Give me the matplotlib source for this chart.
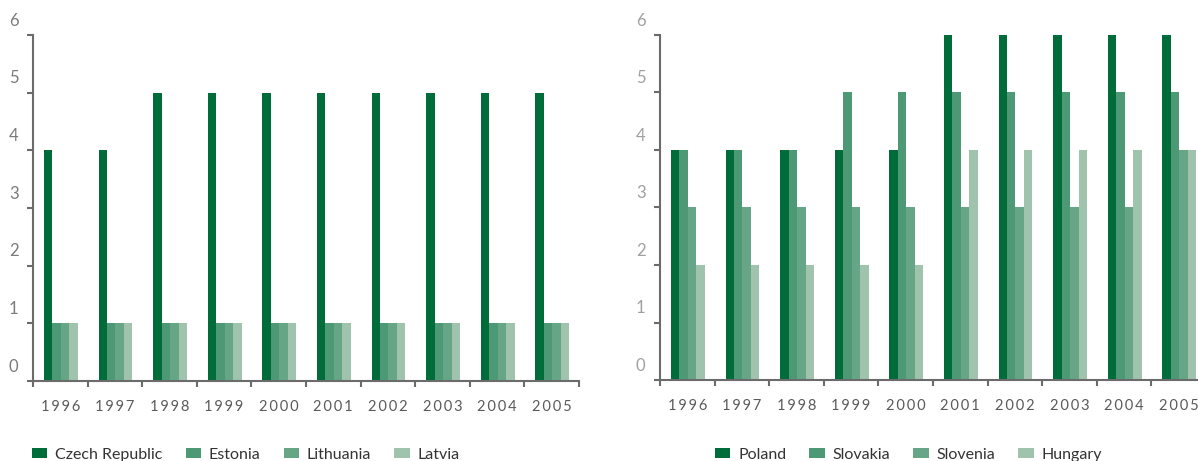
import matplotlib.pyplot as plt
import numpy as np
from matplotlib.transforms import ScaledTranslation

# Data
years = ["1996", "1997", "1998", "1999", "2000", "2001", "2002", "2003", "2004", "2005"]

left_names = ["Czech Republic", "Estonia", "Lithuania", "Latvia"]
czech = [4, 4, 5, 5, 5, 5, 5, 5, 5, 5]
estonia = [1, 1, 1, 1, 1, 1, 1, 1, 1, 1]
lithuania = [1, 1, 1, 1, 1, 1, 1, 1, 1, 1]
latvia = [1, 1, 1, 1, 1, 1, 1, 1, 1, 1]

right_names = ["Poland", "Slovakia", "Slovenia", "Hungary"]
poland = [4, 4, 4, 4, 4, 6, 6, 6, 6, 6]
slovakia = [4, 4, 4, 5, 5, 5, 5, 5, 5, 5]
slovenia = [3, 3, 3, 3, 3, 3, 3, 3, 3, 4]
hungary = [2, 2, 2, 2, 2, 4, 4, 4, 4, 4]

colors = ["#006c3a", "#4d9875", "#66a586", "#a0c3ae"]
axis_color = "#6b6b6b"
tick_font = ["Lato", "DejaVu Sans"]
legend_font = ["Lato", "DejaVu Sans"]

W, H = 1198, 461
fig = plt.figure(figsize=(W / 100, H / 100), dpi=100)
ax1 = fig.add_axes([33 / W, 80 / H, 546 / W, 346 / H])
ax2 = fig.add_axes([660 / W, 81 / H, 546 / W, 345 / H])


def draw_panel(ax, names, series, label_color, legend_x):
    x = np.arange(len(years))
    w = 0.155
    for i, (name, vals) in enumerate(zip(names, series)):
        ax.bar(x + (i - 1.5) * w + 0.01, vals, width=w, color=colors[i],
               label=name, linewidth=0)

    ax.set_xlim(-0.5, len(years) - 0.5)
    ax.set_ylim(0, 6)

    for side in ["top", "right"]:
        ax.spines[side].set_visible(False)
    for side in ["left", "bottom"]:
        ax.spines[side].set_color(axis_color)
        ax.spines[side].set_linewidth(1.5)

    # category boundary ticks, labels at the centres (letter spaced)
    ax.set_xticks(np.arange(-0.5, len(years), 1.0))
    ax.set_xticklabels([])
    ax.set_xticks(x, minor=True)
    ax.set_xticklabels(["\u2009".join(y) for y in years], minor=True,
                       family=tick_font, fontsize=10.5, color="#5a5a5a")
    ax.tick_params(axis="x", which="major", length=4, width=1.5,
                   color=axis_color, direction="out")
    ax.tick_params(axis="x", which="minor", length=0, pad=14)

    ax.set_yticks(range(7))
    ax.set_yticklabels([str(v) for v in range(7)], family=tick_font,
                       fontsize=12, color=label_color)
    ax.tick_params(axis="y", length=4.5, width=1.5, color=axis_color,
                   direction="out", pad=6)
    # labels sit above their tick marks in the original
    shift = ScaledTranslation(0, 0.16, fig.dpi_scale_trans)
    for lab in ax.get_yticklabels():
        lab.set_transform(lab.get_transform() + shift)

    leg = ax.legend(loc="center left", bbox_to_anchor=(legend_x / W, 6 / H),
                    bbox_transform=fig.transFigure, ncol=4, frameon=False,
                    borderaxespad=0, borderpad=0, handlelength=0.95,
                    handleheight=0.56, handletextpad=0.5, columnspacing=1.45,
                    prop={"family": legend_font, "size": 11.5})
    for t in leg.get_texts():
        t.set_color("#333333")


draw_panel(ax1, left_names, [czech, estonia, lithuania, latvia], "#7a7a7a", 32)
draw_panel(ax2, right_names, [poland, slovakia, slovenia, hungary], "#a0a0a0", 715)

plt.savefig("out.png", dpi=100)
